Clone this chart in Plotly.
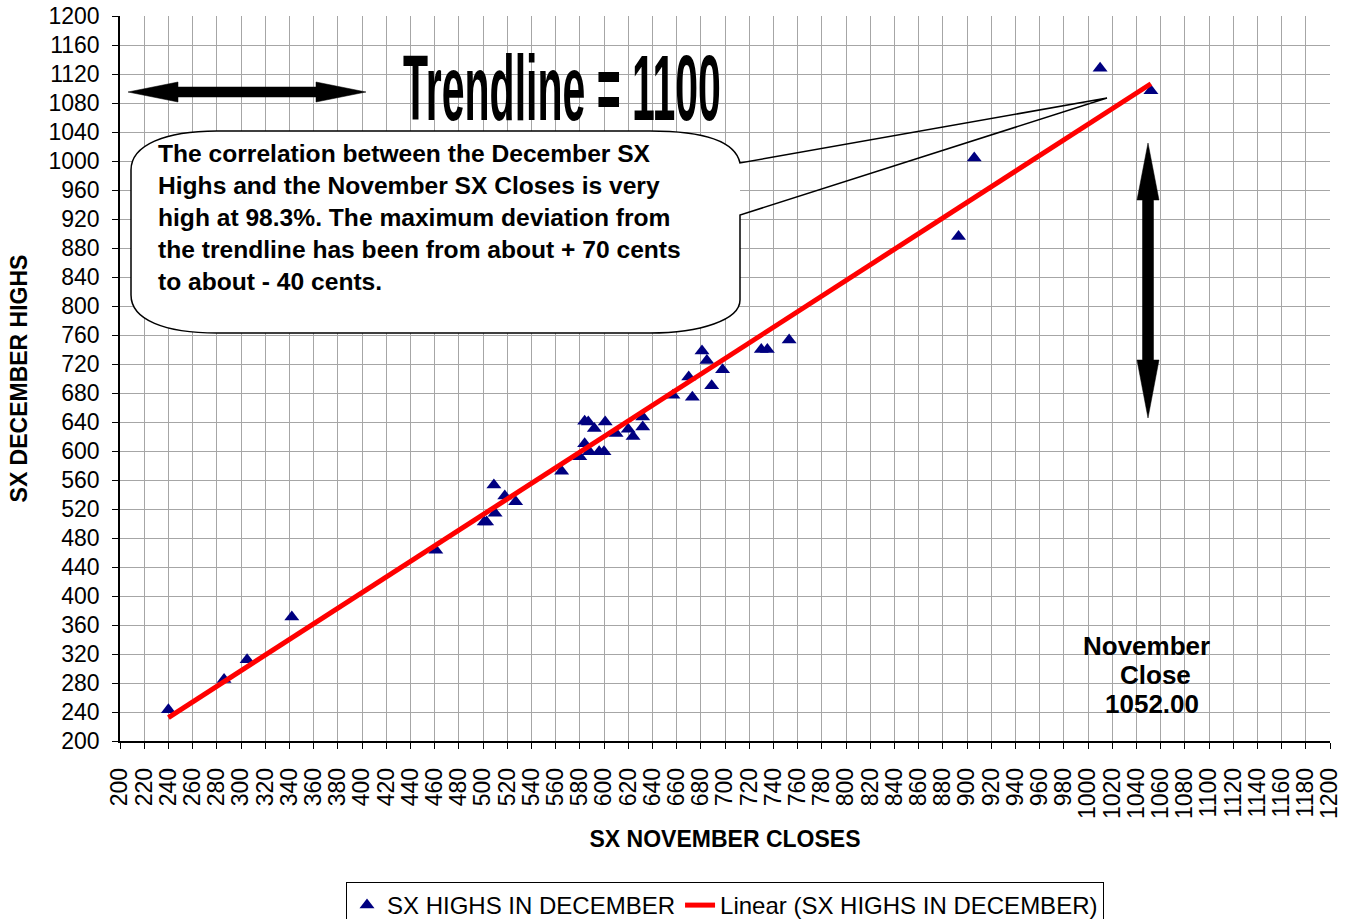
import numpy as np
import plotly.graph_objects as go

# ---- data ----
nov_closes = [240, 286, 305, 342, 461, 501, 503, 510, 509, 518, 527,
              565, 580, 584, 588, 584, 587, 592, 596, 600, 601,
              610, 620, 624, 632, 632, 657, 670, 673, 681, 685, 689, 698,
              730, 735, 753, 893, 906, 1010, 1052]
dec_highs = [243, 285, 312, 371, 463, 502, 502, 514, 553, 538, 530,
             572, 592, 610, 599, 641, 640, 631, 599, 599, 640,
             624, 630, 620, 633, 647, 677, 702, 674, 738, 725, 690, 712,
             740, 740, 753, 896, 1004, 1128, 1097]
series_name = "SX HIGHS IN DECEMBER"
trend_name = "Linear (SX HIGHS IN DECEMBER)"
x_title = "SX NOVEMBER CLOSES"
y_title = "SX DECEMBER HIGHS"
box_text = ("The correlation between the December SX<br>"
            "Highs and the November SX Closes is very<br>"
            "high at 98.3%. The maximum deviation from<br>"
            "the trendline has been from about + 70 cents<br>"
            "to about - 40 cents.")
trend_label = "Trendline = 1100"
close_lines = ["November", "Close", "1052.00"]

# linear trendline fitted to the series
slope, intercept = np.polyfit(nov_closes, dec_highs, 1)
tx = [min(nov_closes), max(nov_closes)]
ty = [slope * v + intercept for v in tx]

# ---- layout geometry (pixels) ----
W, H = 1348, 919
PL, PT, PW, PH = 120, 16, 1210, 725


def X(px):
    return 200 + (px - PL) / PW * 1000


def Y(py):
    return 1200 - (py - PT) / PH * 1000


def path(cmds):
    out = []
    for c in cmds:
        if isinstance(c, str):
            out.append(c)
        else:
            out.append("%.3f,%.3f" % (X(c[0]), Y(c[1])))
    return " ".join(out)


FONT = "Liberation Sans, Arial, sans-serif"

fig = go.Figure()
fig.add_trace(go.Scatter(
    x=nov_closes, y=dec_highs, mode="markers", name=series_name,
    marker=dict(symbol="triangle-up", size=13, color="#000080"),
))
fig.add_trace(go.Scatter(
    x=tx, y=ty, mode="lines", name=trend_name,
    line=dict(color="#ff0000", width=5),
))

shapes = []
box_fill = path(["M", (740, 163), "C", (735, 140), (700, 131), (650, 131),
                 "L", (217, 131), "C", (165, 131), (131, 145), (131, 170),
                 "L", (131, 295), "C", (131, 320), (165, 333), (217, 333),
                 "L", (650, 333), "C", (700, 333), (740, 320), (740, 300),
                 "Z"])
shapes.append(dict(type="path", path=box_fill, xref="x", yref="y",
                   fillcolor="white", line=dict(width=0), layer="above"))
box_line = path(["M", (1107, 98), "L", (740, 163),
                 "C", (735, 140), (700, 131), (650, 131),
                 "L", (217, 131), "C", (165, 131), (131, 145), (131, 170),
                 "L", (131, 295), "C", (131, 320), (165, 333), (217, 333),
                 "L", (650, 333), "C", (700, 333), (740, 320), (740, 300),
                 "L", (740, 215), "L", (1107, 98)])
shapes.append(dict(type="path", path=box_line, xref="x", yref="y",
                   fillcolor="rgba(0,0,0,0)", line=dict(color="black", width=1.5),
                   layer="above"))
harrow = path(["M", (128, 92), "L", (178, 82), "L", (178, 87), "L", (316, 87),
               "L", (316, 82), "L", (366, 92), "L", (316, 102), "L", (316, 97),
               "L", (178, 97), "L", (178, 102), "Z"])
shapes.append(dict(type="path", path=harrow, xref="x", yref="y",
                   fillcolor="black", line=dict(color="black", width=0.5), layer="above"))
varrow = path(["M", (1148, 143), "L", (1159, 200), "L", (1153.5, 200), "L", (1153.5, 360),
               "L", (1159, 360), "L", (1148, 418), "L", (1137, 360), "L", (1142.5, 360),
               "L", (1142.5, 200), "L", (1137, 200), "Z"])
shapes.append(dict(type="path", path=varrow, xref="x", yref="y",
                   fillcolor="black", line=dict(color="black", width=0.5), layer="above"))

annotations = [
    dict(text=box_text, x=X(156), y=Y(217.5), xref="x", yref="y",
         xanchor="left", yanchor="middle", align="left", showarrow=False,
         font=dict(family=FONT, size=24.6, color="black", weight="bold")),
    dict(text=trend_label, x=X(562), y=Y(88), xref="x", yref="y",
         xanchor="center", yanchor="middle", showarrow=False,
         font=dict(family="Liberation Sans Narrow, Arial Narrow, sans-serif",
                   size=41, color="black", weight="bold")),
    dict(text=close_lines[0], x=X(1146), y=Y(646), xref="x", yref="y",
         xanchor="center", yanchor="middle", showarrow=False,
         font=dict(family=FONT, size=26, color="black", weight="bold")),
    dict(text=close_lines[1], x=X(1155), y=Y(675), xref="x", yref="y",
         xanchor="center", yanchor="middle", showarrow=False,
         font=dict(family=FONT, size=26, color="black", weight="bold")),
    dict(text=close_lines[2], x=X(1152), y=Y(704), xref="x", yref="y",
         xanchor="center", yanchor="middle", showarrow=False,
         font=dict(family=FONT, size=26, color="black", weight="bold")),
]

axis_common = dict(
    range=[200, 1200], showgrid=True, gridcolor="#a6a6a6", gridwidth=1.3,
    showline=True, linecolor="black", linewidth=1.5, ticks="outside",
    ticklen=6, tickcolor="black", zeroline=False, automargin=False,
    tickfont=dict(family=FONT, size=23, color="black"),
)

fig.update_layout(
    width=W, height=H,
    margin=dict(l=PL, r=W - PL - PW, t=PT, b=H - PT - PH, autoexpand=False),
    paper_bgcolor="white", plot_bgcolor="white",
    font=dict(family=FONT, color="black"),
    xaxis=dict(axis_common, tick0=200, dtick=20, tickangle=-90, ticklabelstandoff=10,
               title=dict(text=x_title, standoff=13,
                          font=dict(family=FONT, size=23, color="black", weight="bold"))),
    yaxis=dict(axis_common, tick0=200, dtick=40, ticklabelstandoff=8,
               title=dict(text=y_title, standoff=14,
                          font=dict(family=FONT, size=23, color="black", weight="bold"))),
    legend=dict(orientation="h", x=0.5, xanchor="center",
                y=-(882 - (PT + PH)) / PH, yanchor="top",
                bordercolor="black", borderwidth=1, bgcolor="white",
                font=dict(family=FONT, size=24, color="black")),
    shapes=shapes, annotations=annotations,
)

post = """
document.body.style.margin = '0';
var gd = document.getElementById('{plot_id}');
function fixTrend(){
  gd.querySelectorAll('g.annotation').forEach(function(g){
    var t = g.querySelector('text');
    if (t && t.textContent.indexOf('Trendline') === 0) {
      var tg = g.querySelector('g.annotation-text-g');
      tg.style.transformBox = 'fill-box';
      tg.style.transformOrigin = 'center';
      tg.style.transform = 'scale(1.0, 2.27)';
    }
  });
}
fixTrend();
if (gd.on) { gd.on('plotly_afterplot', fixTrend); }
"""

fig.write_html("out.html", post_script=post, config={"displayModeBar": False})
